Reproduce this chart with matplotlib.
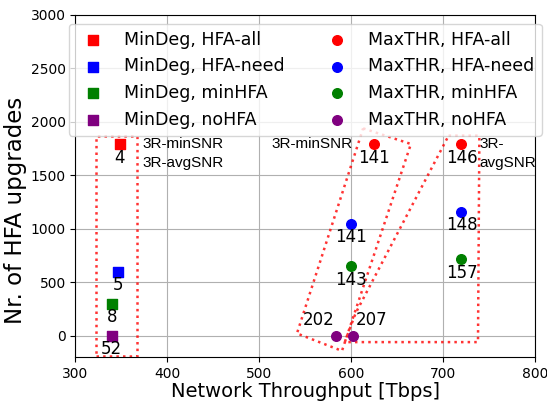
import matplotlib
matplotlib.use("Agg")
import matplotlib.pyplot as plt
from matplotlib.patches import Polygon

# ---- data ----
mindeg_labels = ["MinDeg, HFA-all", "MinDeg, HFA-need", "MinDeg, minHFA", "MinDeg, noHFA"]
mindeg_x = [348, 346, 340, 339.5]
mindeg_y = [1790, 600, 300, 0]
mindeg_ann = ["4", "5", "8", "52"]

maxthr_labels = ["MaxTHR, HFA-all", "MaxTHR, HFA-need", "MaxTHR, minHFA", "MaxTHR, noHFA"]
# first = 3R-minSNR point, second = 3R-avgSNR point
maxthr_x = [[625, 720], [600, 720], [600, 720], [584, 602]]
maxthr_y = [[1790, 1790], [1050, 1160], [650, 715], [0, 0]]
maxthr_ann = [["141", "146"], ["141", "148"], ["143", "157"], ["202", "207"]]

colors = ["red", "blue", "green", "purple"]

# outline regions (data coords)
box_mindeg = [(322, -185), (367, -185), (367, 1872), (322, 1872)]
box_minsnr = [(613, 1940), (665, 1794), (590, -140), (541, 23)]
box_avgsnr = [(706, 1872), (739.5, 1872), (738, -58), (593, -58), (605, 215)]

fig = plt.figure(figsize=(5.47, 4.03), dpi=100)
ax = fig.add_axes([0.138, 0.1134, 0.840, 0.8494])

handles = []
for i in range(4):
    h = ax.scatter([mindeg_x[i]], [mindeg_y[i]], marker="s", s=42, color=colors[i],
                   label=mindeg_labels[i], zorder=3)
    handles.append(h)
    ax.annotate(mindeg_ann[i], (mindeg_x[i], mindeg_y[i]), xytext=(0, -3),
                textcoords="offset points", ha="center", va="top", fontsize=12)
for i in range(4):
    h = ax.scatter(maxthr_x[i], maxthr_y[i], marker="o", s=48, color=colors[i],
                   label=maxthr_labels[i], zorder=3)
    handles.append(h)
    for j in range(2):
        if i == 3:
            off = (-13, 5) if j == 0 else (13, 5)
            va = "bottom"
        else:
            off = (0, -3)
            va = "top"
        ax.annotate(maxthr_ann[i][j], (maxthr_x[i][j], maxthr_y[i][j]), xytext=off,
                    textcoords="offset points", ha="center", va=va, fontsize=12)

for pts in (box_mindeg, box_minsnr, box_avgsnr):
    ax.add_patch(Polygon(pts, closed=True, fill=False, edgecolor="red", alpha=0.8,
                         linestyle=":", linewidth=1.8, zorder=2))

tfont = ["Liberation Sans", "DejaVu Sans"]
ax.text(373, 1790, "3R-minSNR", ha="left", va="center", fontsize=11, family=tfont)
ax.text(373, 1615, "3R-avgSNR", ha="left", va="center", fontsize=11, family=tfont)
ax.text(601, 1790, "3R-minSNR", ha="right", va="center", fontsize=11, family=tfont)
ax.text(740, 1790, "3R-", ha="left", va="center", fontsize=11, family=tfont)
ax.text(740, 1615, "avgSNR", ha="left", va="center", fontsize=11, family=tfont)

ax.set_xlim(300, 800)
ax.set_ylim(-200, 3000)
ax.set_xticks([300, 400, 500, 600, 700, 800])
ax.set_yticks([0, 500, 1000, 1500, 2000, 2500, 3000])
ax.tick_params(labelsize=10)
ax.grid(True, zorder=0)
ax.set_axisbelow(True)
ax.set_xlabel("Network Throughput [Tbps]", fontsize=14, labelpad=1)
ax.set_ylabel("Nr. of HFA upgrades", fontsize=16.5)
ax.yaxis.set_label_coords(-0.105, 0.43)

ax.legend(handles=handles, loc="upper center", ncol=2, fontsize=12.5)

fig.savefig("out.png", dpi=100)
